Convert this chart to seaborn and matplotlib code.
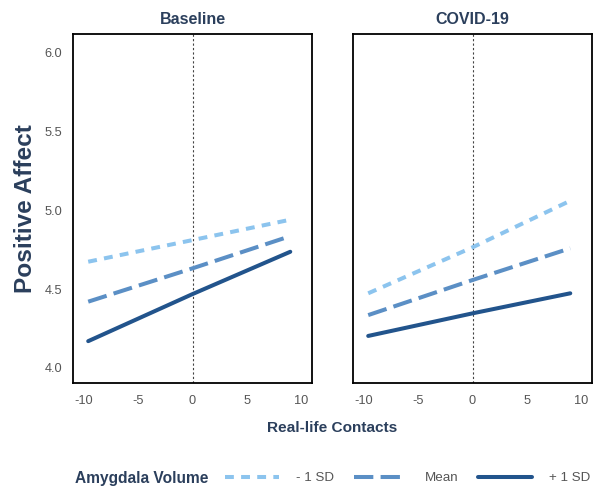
import matplotlib
matplotlib.use("Agg")
import matplotlib.pyplot as plt
from matplotlib.lines import Line2D
import numpy as np
import pandas as pd
import seaborn as sns

# Simple slopes of positive affect on real-life contacts
contacts = [-9.6, 0.0, 9.0]
levels = ["- 1 SD", "Mean", "+ 1 SD"]
baseline_low = [4.673, 4.810, 4.939]
baseline_mean = [4.420, 4.631, 4.835]
baseline_high = [4.170, 4.468, 4.736]
covid_low = [4.473, 4.764, 5.059]
covid_mean = [4.335, 4.557, 4.758]
covid_high = [4.203, 4.346, 4.473]
panels = ["Baseline", "COVID-19"]
y_ticks = [4.0, 4.5, 5.0, 5.5, 6.0]
x_ticks = [-10, -5, 0, 5, 10]

rows = []
for panel, series in zip(panels, [(baseline_low, baseline_mean, baseline_high),
                                  (covid_low, covid_mean, covid_high)]):
    for lvl, vals in zip(levels, series):
        for x, y in zip(contacts, vals):
            rows.append({"panel": panel, "Amygdala Volume": lvl,
                         "Real-life Contacts": x, "Positive Affect": y})
df = pd.DataFrame(rows)

sns.set_theme(style="white")
plt.rcParams["font.family"] = ["Liberation Sans", "DejaVu Sans"]

navy = "#2b3f5c"
tick_grey = "#555555"
palette = {"- 1 SD": "#8cc4ee", "Mean": "#5b8fc5", "+ 1 SD": "#22548c"}
dashes = {"- 1 SD": (2.2, 1.8), "Mean": (4.8, 1.8), "+ 1 SD": ""}
lw = 2.9

fig = plt.figure(figsize=(5.94, 4.87), dpi=100)
W, H = 594, 487
ax_bottom = (H - 383) / H
ax_h = (383 - 34) / H
ax_w = 239 / W
axes = [fig.add_axes([73 / W, ax_bottom, ax_w, ax_h]),
        fig.add_axes([353 / W, ax_bottom, ax_w, ax_h])]

for i, (ax, panel) in enumerate(zip(axes, panels)):
    sub = df[df["panel"] == panel]
    sns.lineplot(data=sub, x="Real-life Contacts", y="Positive Affect",
                 hue="Amygdala Volume", style="Amygdala Volume",
                 palette=palette, dashes=dashes, linewidth=lw,
                 hue_order=levels, style_order=levels, ax=ax, legend=False)
    ax.axvline(0, color="#444444", linestyle=(0, (2, 2)), linewidth=0.8, zorder=0)
    ax.set_xlim(-11, 11)
    ax.set_ylim(3.905, 6.115)
    ax.set_xticks(x_ticks)
    ax.set_xticklabels([str(t) for t in x_ticks])
    ax.set_yticks(y_ticks)
    ax.tick_params(axis="both", length=0, labelsize=9.2, labelcolor=tick_grey)
    ax.tick_params(axis="x", pad=9)
    ax.tick_params(axis="y", pad=8)
    ax.set_xlabel("")
    ax.set_ylabel("")
    ax.set_title(panel, fontsize=11.5, fontweight="bold", color=navy, pad=7)
    for sp in ax.spines.values():
        sp.set_visible(True)
        sp.set_color("black")
        sp.set_linewidth(1.3)
    if i == 1:
        ax.set_yticklabels([])

axes[0].set_yticklabels([f"{t:.1f}" for t in y_ticks])
axes[0].set_ylabel("Positive Affect", fontsize=17.6, fontweight="bold", color=navy)
axes[0].yaxis.set_label_coords(-0.15, 0.5)

fig.text(332 / W, 1 - 428 / H, "Real-life Contacts", ha="center", va="center",
         fontsize=11.1, fontweight="bold", color=navy)

# Horizontal legend along the bottom
fig.text(75 / W, 1 - 478 / H, "Amygdala Volume", ha="left", va="center",
         fontsize=11.2, fontweight="bold", color=navy)
handles = [Line2D([0], [0], color=palette["- 1 SD"], linewidth=lw, dashes=dashes["- 1 SD"]),
           Line2D([0], [0], color=palette["Mean"], linewidth=lw, dashes=dashes["Mean"]),
           Line2D([0], [0], color=palette["+ 1 SD"], linewidth=lw, linestyle="-")]
leg = fig.legend(handles, levels, ncol=3, loc="center left",
                 bbox_to_anchor=(216 / W, 1 - 478 / H), frameon=False,
                 fontsize=9.6, handlelength=4.0, columnspacing=1.5, handletextpad=1.3,
                 labelcolor="#555555", borderpad=0.2)

fig.savefig("out.png", dpi=100)
